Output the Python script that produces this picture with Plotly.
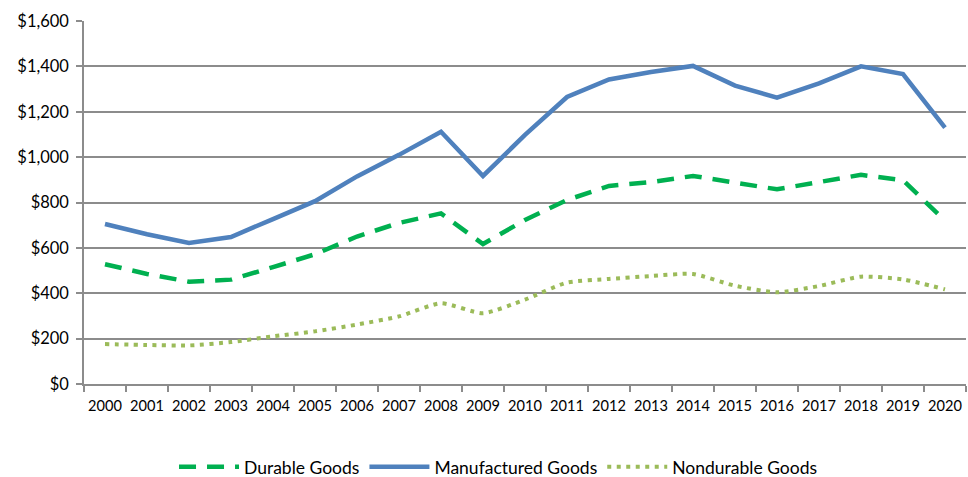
import plotly.graph_objects as go

years = [str(y) for y in range(2000, 2021)]

durable = [528, 485, 451, 460, 515, 572, 650, 710, 752, 617, 723, 811, 873, 890, 917, 888, 858, 890, 922, 898, 720]
manufactured = [705, 660, 622, 648, 727, 806, 915, 1010, 1112, 917, 1098, 1265, 1342, 1375, 1402, 1315, 1262, 1325, 1400, 1366, 1130]
nondurable = [176, 172, 170, 185, 210, 232, 262, 298, 356, 312, 372, 447, 463, 476, 485, 433, 404, 432, 473, 461, 417]

y_ticks = [0, 200, 400, 600, 800, 1000, 1200, 1400, 1600]
y_labels = ["$0", "$200", "$400", "$600", "$800", "$1,000", "$1,200", "$1,400", "$1,600"]

fig = go.Figure()
fig.add_trace(go.Scatter(
    x=years, y=durable, name="Durable Goods", mode="lines",
    line=dict(color="#00B050", width=4.5, dash="17px,11px"),
))
fig.add_trace(go.Scatter(
    x=years, y=manufactured, name="Manufactured Goods", mode="lines",
    line=dict(color="#4F81BD", width=4.5),
))
fig.add_trace(go.Scatter(
    x=years, y=nondurable, name="Nondurable Goods", mode="lines",
    line=dict(color="#9BBB59", width=4, dash="4px,5.5px", shape="spline", smoothing=0.6),
))

grid = "#8C8C8C"
fig.update_layout(
    width=968, height=477,
    margin=dict(l=84, r=2, t=21, b=93),
    paper_bgcolor="white", plot_bgcolor="white",
    font=dict(family="Lato, sans-serif", size=16, color="#000000"),
    showlegend=True,
    legend=dict(orientation="h", xref="container", yref="container",
                x=0.515, xanchor="center", y=0.021, yanchor="middle",
                font=dict(size=17.5), itemwidth=60, tracegroupgap=0),
    xaxis=dict(
        type="category", showgrid=False, showline=True, linecolor=grid, linewidth=1.5,
        ticks="outside", tickson="boundaries", ticklen=6, tickcolor=grid, tickwidth=1.5,
        range=[-0.5, 20.5], tickangle=0, tickfont=dict(size=14.6), automargin=False,
        ticklabelstandoff=8,
    ),
    yaxis=dict(
        range=[0, 1600], tickvals=y_ticks, ticktext=y_labels,
        showgrid=True, gridcolor=grid, gridwidth=1.5, zeroline=False,
        showline=True, linecolor=grid, linewidth=1.5, automargin=False,
        ticks="outside", ticklen=6, tickcolor=grid, tickwidth=1.5, ticklabelstandoff=4,
        tickfont=dict(size=16.5),
    ),
)

fig.write_html("out.html")
